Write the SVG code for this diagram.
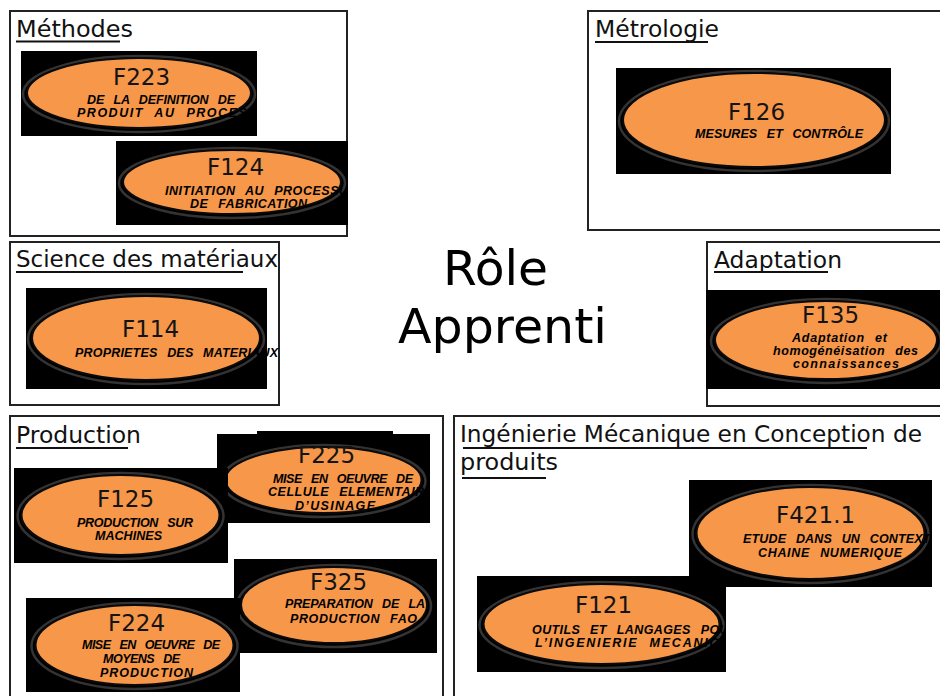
<svg xmlns="http://www.w3.org/2000/svg" width="940" height="696" viewBox="0 0 940 696">
<style>
.box{fill:#fff;stroke:#222;stroke-width:2}
.ttl{font-family:"DejaVu Sans",Verdana,sans-serif;font-size:23px;fill:#111}
.ul{stroke:#111;stroke-width:2}
.bg{fill:#000}
.ring{fill:none;stroke:#333;stroke-width:2.5}
.ell{fill:#F69749;stroke:#0a0a0a;stroke-width:2}
.code{font-family:"DejaVu Sans",Verdana,sans-serif;font-size:23px;fill:#141414}
.lbl{font-family:"Liberation Sans",Arial,sans-serif;font-size:12.5px;font-weight:bold;font-style:italic;fill:#000;word-spacing:6px}
.big{font-family:"DejaVu Sans",Verdana,sans-serif;font-size:48px;fill:#000}
</style>
<defs>
<clipPath id="c223"><rect x="21" y="51" width="236" height="85"/></clipPath>
<clipPath id="c124"><rect x="116" y="141" width="232" height="84"/></clipPath>
<clipPath id="c225"><rect x="217" y="431" width="213" height="92"/></clipPath>
<clipPath id="c421"><rect x="689" y="480" width="243" height="107"/></clipPath>
<clipPath id="c121"><rect x="477" y="576" width="249" height="96"/></clipPath>
</defs>
<rect width="940" height="696" fill="#fff"/>

<g id="frames">
<rect class="box" x="10" y="11" width="337" height="225"/>
<rect class="box" x="588" y="11" width="360" height="219"/>
<rect class="box" x="10" y="242" width="269" height="163"/>
<rect class="box" x="707" y="242" width="240" height="164"/>
<rect class="box" x="10" y="416" width="433" height="290"/>
<rect class="box" x="454" y="416" width="500" height="290"/>
</g>

<g id="titles">
<text class="ttl" x="16" y="37" textLength="117" lengthAdjust="spacingAndGlyphs">Méthodes</text>
<line class="ul" x1="16" y1="41.5" x2="120" y2="41.5"/>
<text class="ttl" x="595" y="37" textLength="124" lengthAdjust="spacingAndGlyphs">Métrologie</text>
<line class="ul" x1="595" y1="42" x2="708" y2="42"/>
<text class="ttl" x="16" y="267" textLength="262" lengthAdjust="spacingAndGlyphs">Science des matériaux</text>
<line class="ul" x1="16" y1="272" x2="243" y2="272"/>
<text class="ttl" x="714" y="268" textLength="128" lengthAdjust="spacingAndGlyphs">Adaptation</text>
<line class="ul" x1="714" y1="272" x2="828" y2="272"/>
<text class="ttl" x="16" y="443" textLength="125" lengthAdjust="spacingAndGlyphs">Production</text>
<line class="ul" x1="16" y1="448" x2="128" y2="448"/>
<text class="ttl" x="460" y="442" textLength="462" lengthAdjust="spacingAndGlyphs">Ingénierie Mécanique en Conception de</text>
<line class="ul" x1="463" y1="448" x2="867" y2="448"/>
<text class="ttl" x="460" y="470" textLength="98" lengthAdjust="spacingAndGlyphs">produits</text>
<line class="ul" x1="462" y1="478" x2="546" y2="478"/>
</g>

<g id="role">
<text class="big" x="443" y="285" textLength="105" lengthAdjust="spacingAndGlyphs">Rôle</text>
<text class="big" x="398" y="343" textLength="209" lengthAdjust="spacingAndGlyphs">Apprenti</text>
</g>

<g id="F223" clip-path="url(#c223)">
<rect class="bg" x="21" y="51" width="236" height="85"/>
<ellipse class="ring" cx="139" cy="94" rx="116" ry="38"/>
<ellipse class="ell" cx="139" cy="93" rx="112" ry="35"/>
<text class="code" x="113" y="85">F223</text>
<text class="lbl" x="87" y="104" textLength="148" lengthAdjust="spacing">DE LA DEFINITION DE</text>
<text class="lbl" x="77" y="117" textLength="200" lengthAdjust="spacing">PRODUIT AU PROCESSUS</text>
</g>

<g id="F124" clip-path="url(#c124)">
<rect class="bg" x="116" y="141" width="232" height="84"/>
<ellipse class="ring" cx="232" cy="183" rx="113" ry="35"/>
<ellipse class="ell" cx="232" cy="182" rx="109" ry="32"/>
<text class="code" x="207" y="175">F124</text>
<text class="lbl" x="165" y="195" textLength="192" lengthAdjust="spacing">INITIATION AU PROCESSUS</text>
<text class="lbl" x="190" y="208" textLength="117" lengthAdjust="spacing">DE FABRICATION</text>
</g>

<g id="F126">
<rect class="bg" x="616" y="68" width="275" height="106"/>
<ellipse class="ring" cx="754" cy="121" rx="135" ry="50"/>
<ellipse class="ell" cx="754" cy="120" rx="131" ry="47"/>
<text class="code" x="728" y="120">F126</text>
<text class="lbl" x="695" y="138" textLength="168" lengthAdjust="spacing">MESURES ET CONTRÔLE</text>
</g>

<g id="F114">
<rect class="bg" x="26" y="288" width="241" height="101"/>
<ellipse class="ring" cx="146" cy="339" rx="118" ry="45"/>
<ellipse class="ell" cx="146" cy="338" rx="114" ry="42"/>
<text class="code" x="122" y="337">F114</text>
<text class="lbl" x="75" y="357" textLength="203" lengthAdjust="spacing">PROPRIETES DES MATERIAUX</text>
</g>

<g id="F135">
<rect class="bg" x="706" y="290" width="240" height="99"/>
<ellipse class="ring" cx="826" cy="341" rx="115" ry="42"/>
<ellipse class="ell" cx="826" cy="340" rx="111" ry="39"/>
<text class="code" x="802" y="323">F135</text>
<text class="lbl" x="792" y="342" textLength="95" lengthAdjust="spacing">Adaptation et</text>
<text class="lbl" x="773" y="355" textLength="145" lengthAdjust="spacing">homogénéisation des</text>
<text class="lbl" x="793" y="368" textLength="106" lengthAdjust="spacing">connaissances</text>
</g>

<g id="F225" clip-path="url(#c225)">
<rect class="bg" x="217" y="434" width="213" height="89"/>
<rect class="bg" x="257" y="431" width="136" height="4"/>
<ellipse class="ring" cx="323.5" cy="481" rx="102" ry="36"/>
<ellipse class="ell" cx="323.5" cy="480" rx="98" ry="33"/>
<text class="code" x="298" y="463">F225</text>
<text class="lbl" x="273" y="483" textLength="140" lengthAdjust="spacing">MISE EN OEUVRE DE</text>
<text class="lbl" x="268" y="496" textLength="165" lengthAdjust="spacing">CELLULE ELEMENTAIRE</text>
<text class="lbl" x="295" y="510" textLength="80" lengthAdjust="spacing">D’USINAGE</text>
</g>

<g id="F125">
<rect class="bg" x="14" y="468" width="214" height="95"/>
<ellipse class="ring" cx="120.5" cy="516" rx="103" ry="43"/>
<ellipse class="ell" cx="120.5" cy="515" rx="99" ry="40"/>
<text class="code" x="97" y="507">F125</text>
<text class="lbl" x="77" y="527" textLength="116" lengthAdjust="spacing">PRODUCTION SUR</text>
<text class="lbl" x="95" y="540" textLength="67" lengthAdjust="spacing">MACHINES</text>
</g>

<g id="F325">
<rect class="bg" x="234" y="559" width="203" height="94"/>
<ellipse class="ring" cx="334" cy="606" rx="97" ry="41"/>
<ellipse class="ell" cx="334" cy="605" rx="93" ry="38"/>
<text class="code" x="310" y="590">F325</text>
<text class="lbl" x="285" y="608" textLength="140" lengthAdjust="spacing">PREPARATION DE LA</text>
<text class="lbl" x="290" y="623" textLength="127" lengthAdjust="spacing">PRODUCTION FAO</text>
</g>

<g id="F224">
<rect class="bg" x="26" y="598" width="214" height="94"/>
<ellipse class="ring" cx="134.5" cy="646" rx="103" ry="43"/>
<ellipse class="ell" cx="134.5" cy="645" rx="99" ry="40"/>
<text class="code" x="108" y="631">F224</text>
<text class="lbl" x="82" y="649" textLength="138" lengthAdjust="spacing">MISE EN OEUVRE DE</text>
<text class="lbl" x="103" y="663" textLength="77" lengthAdjust="spacing">MOYENS DE</text>
<text class="lbl" x="100" y="677" textLength="93" lengthAdjust="spacing">PRODUCTION</text>
</g>

<g id="F421.1" clip-path="url(#c421)">
<rect class="bg" x="689" y="480" width="243" height="107"/>
<ellipse class="ring" cx="810.5" cy="534" rx="118" ry="49"/>
<ellipse class="ell" cx="810.5" cy="533" rx="114" ry="46"/>
<text class="code" x="776" y="523">F421.1</text>
<text class="lbl" x="743" y="543" textLength="196" lengthAdjust="spacing">ETUDE DANS UN CONTEXTE</text>
<text class="lbl" x="758" y="557" textLength="144" lengthAdjust="spacing">CHAINE NUMERIQUE</text>
</g>

<g id="F121" clip-path="url(#c121)">
<rect class="bg" x="477" y="576" width="249" height="96"/>
<ellipse class="ring" cx="601.5" cy="625" rx="122" ry="43"/>
<ellipse class="ell" cx="601.5" cy="624" rx="118" ry="40"/>
<text class="code" x="575" y="613">F121</text>
<text class="lbl" x="532" y="634" textLength="206" lengthAdjust="spacing">OUTILS ET LANGAGES POUR</text>
<text class="lbl" x="535" y="647" textLength="205" lengthAdjust="spacing">L’INGENIERIE MECANIQUE</text>
</g>

<g id="connectors"></g>
</svg>
